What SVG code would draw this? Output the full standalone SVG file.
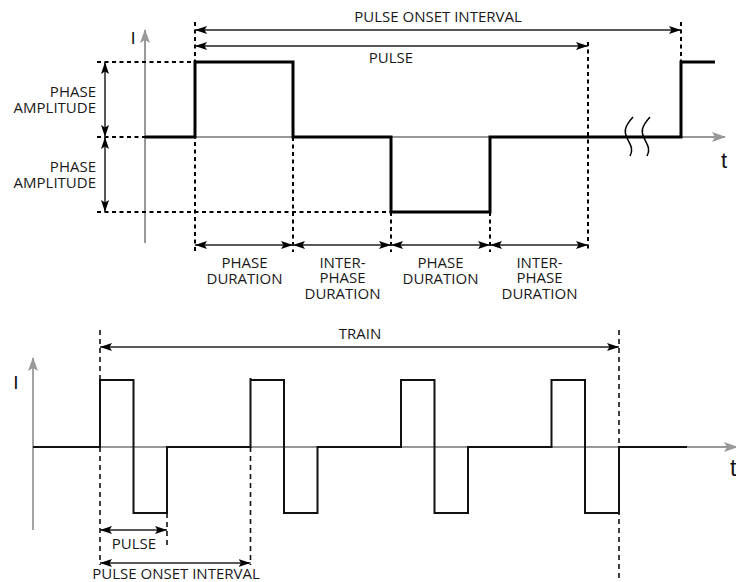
<svg xmlns="http://www.w3.org/2000/svg" width="736" height="582" viewBox="0 0 736 582">
<defs>
<marker id="ah" viewBox="0 0 12 8" refX="12" refY="4" markerWidth="12" markerHeight="8" markerUnits="userSpaceOnUse" orient="auto-start-reverse"><path d="M0,0 L12,4 L0,8 L2.5,4 z" fill="#000"/></marker>
<marker id="gah" viewBox="0 0 14 10" refX="13" refY="5" markerWidth="14" markerHeight="10" markerUnits="userSpaceOnUse" orient="auto"><path d="M0,0 L14,5 L0,10 L3,5 z" fill="#999"/></marker>
</defs>
<style>
.lbl{font-family:"Open Sans","DejaVu Sans",sans-serif;font-size:15px;fill:#1a1a1a;text-anchor:middle}
.lblr{font-family:"Open Sans","DejaVu Sans",sans-serif;font-size:15px;fill:#1a1a1a;text-anchor:end}
.ax{font-family:"Liberation Sans",Arial,sans-serif;fill:#111}
.axis{stroke:#999;fill:none}
.wave1{stroke:#000;stroke-width:3;fill:none;stroke-linejoin:miter}
.wave2{stroke:#111;stroke-width:2;fill:none}
.dash1{stroke:#000;stroke-width:2;stroke-dasharray:4 3.5;fill:none}
.dash2{stroke:#111;stroke-width:1.6;stroke-dasharray:5 4;fill:none}
.dim{stroke:#222;stroke-width:1.5;fill:none;marker-start:url(#ah);marker-end:url(#ah)}
</style>
<rect width="736" height="582" fill="#fff"/>

<g id="top-diagram">
  <g id="top-axes">
    <line class="axis" x1="145" y1="243" x2="145" y2="30" stroke-width="2" marker-end="url(#gah)"/>
    <line class="axis" x1="145" y1="137" x2="725" y2="137" stroke-width="2" marker-end="url(#gah)"/>
    <text class="ax" x="133" y="44" font-size="17" text-anchor="middle">I</text>
    <text class="ax" x="724" y="168" font-size="22" text-anchor="middle">t</text>
  </g>
  <g id="top-guides">
    <line class="dash1" x1="97" y1="62" x2="195" y2="62"/>
    <line class="dash1" x1="97" y1="137" x2="145" y2="137"/>
    <line class="dash1" x1="97" y1="212" x2="391" y2="212"/>
    <line class="dash1" x1="195" y1="22" x2="195" y2="252"/>
    <line class="dash1" x1="293" y1="137" x2="293" y2="252"/>
    <line class="dash1" x1="391" y1="212" x2="391" y2="252"/>
    <line class="dash1" x1="490" y1="212" x2="490" y2="252"/>
    <line class="dash1" x1="588" y1="42" x2="588" y2="252"/>
    <line class="dash1" x1="681" y1="22" x2="681" y2="62"/>
  </g>
  <g id="top-waveform">
    <polyline class="wave1" points="145,137 195,137 195,62 293,62 293,137 391,137 391,212 490,212 490,137 681,137 681,62 715,62"/>
    <path d="M633,117 C624,127 624,132 627,138 C630,144 634,149 630,156" stroke="#000" stroke-width="1.5" fill="none"/>
    <path d="M650,117 C641,127 641,132 644,138 C647,144 651,149 647,156" stroke="#000" stroke-width="1.5" fill="none"/>
  </g>
  <g id="top-connectors">
    <line class="dim" x1="195" y1="30" x2="681" y2="30"/>
    <line class="dim" x1="195" y1="46" x2="588" y2="46"/>
    <line class="dim" x1="105" y1="62" x2="105" y2="137"/>
    <line class="dim" x1="105" y1="137" x2="105" y2="212"/>
    <line class="dim" x1="195" y1="245" x2="293" y2="245"/>
    <line class="dim" x1="293" y1="245" x2="391" y2="245"/>
    <line class="dim" x1="391" y1="245" x2="490" y2="245"/>
    <line class="dim" x1="490" y1="245" x2="588" y2="245"/>
  </g>
  <g id="top-labels">
    <text class="lbl" x="438" y="21.5">PULSE ONSET INTERVAL</text>
    <text class="lbl" x="391" y="63">PULSE</text>
    <text class="lblr" x="96" y="97">PHASE</text>
    <text class="lblr" x="96" y="113">AMPLITUDE</text>
    <text class="lblr" x="96" y="172">PHASE</text>
    <text class="lblr" x="96" y="188">AMPLITUDE</text>
    <text class="lbl" x="244.5" y="268">PHASE</text>
    <text class="lbl" x="244.5" y="284">DURATION</text>
    <text class="lbl" x="342.5" y="267.5">INTER-</text>
    <text class="lbl" x="342.5" y="283">PHASE</text>
    <text class="lbl" x="342.5" y="298.5">DURATION</text>
    <text class="lbl" x="440.5" y="268">PHASE</text>
    <text class="lbl" x="440.5" y="284">DURATION</text>
    <text class="lbl" x="539.5" y="267.5">INTER-</text>
    <text class="lbl" x="539.5" y="283">PHASE</text>
    <text class="lbl" x="539.5" y="298.5">DURATION</text>
  </g>
</g>

<g id="bottom-diagram">
  <g id="bottom-axes">
    <line class="axis" x1="33" y1="530" x2="33" y2="358" stroke-width="1.8" marker-end="url(#gah)"/>
    <line class="axis" x1="33" y1="447" x2="737" y2="447" stroke-width="1.8" marker-end="url(#gah)"/>
    <text class="ax" x="16" y="389" font-size="19" text-anchor="middle">I</text>
    <text class="ax" x="730" y="476" font-size="23">t</text>
  </g>
  <g id="bottom-guides">
    <line class="dash2" x1="100" y1="330" x2="100" y2="565"/>
    <line class="dash2" x1="619" y1="330" x2="619" y2="580"/>
    <line class="dash2" x1="167" y1="513" x2="167" y2="545"/>
    <line class="dash2" x1="250.5" y1="447" x2="250.5" y2="565"/>
  </g>
  <g id="bottom-waveform">
    <polyline class="wave2" points="33,447 100,447 100,380 133.5,380 133.5,513 167,513 167,447 250.5,447 250.5,378 250.5,380 284,380 284,513 317.5,513 317.5,447 401,447 401,380 434.5,380 434.5,513 468,513 468,447 551.5,447 551.5,380 585,380 585,513 619,513 619,447 687,447"/>
  </g>
  <g id="bottom-connectors">
    <line class="dim" x1="100" y1="347" x2="619" y2="347"/>
    <line class="dim" x1="100" y1="530" x2="167" y2="530"/>
    <line class="dim" x1="100" y1="563" x2="250.5" y2="563"/>
  </g>
  <g id="bottom-labels">
    <text class="lbl" x="360" y="339">TRAIN</text>
    <text class="lbl" x="134" y="549">PULSE</text>
    <text class="lbl" x="176" y="578.5">PULSE ONSET INTERVAL</text>
  </g>
</g>
</svg>
